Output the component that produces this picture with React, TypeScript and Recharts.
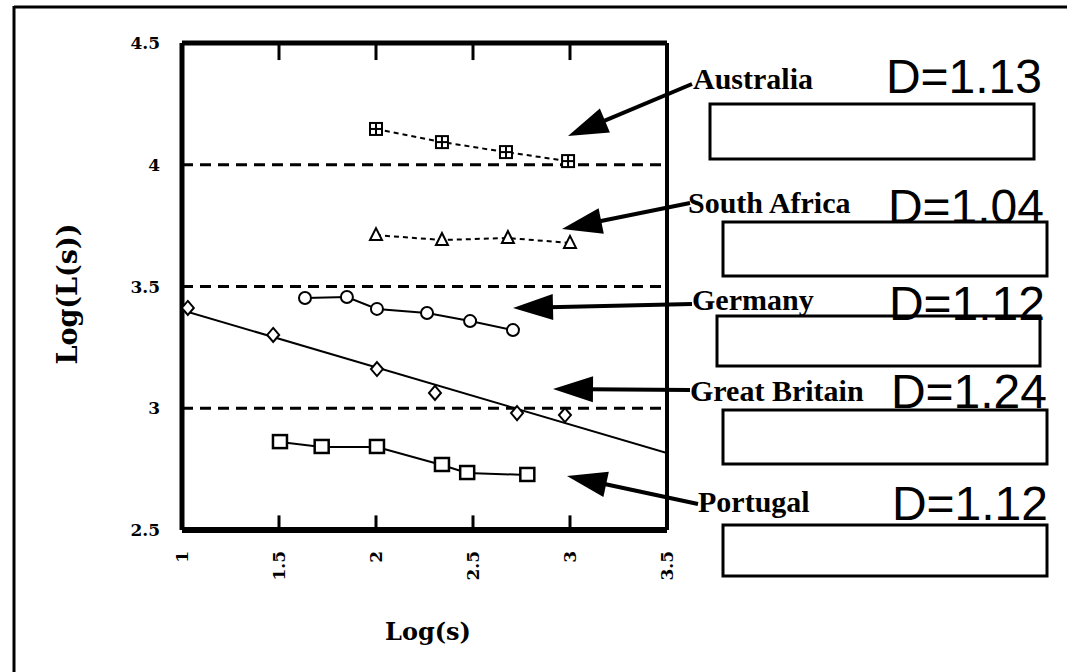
import React from 'react';
import { ComposedChart, Line, XAxis, YAxis, ReferenceLine } from 'recharts';

const xTicks = [1, 1.5, 2, 2.5, 3, 3.5];
const yTicks = [2.5, 3, 3.5, 4, 4.5];
const gridValues = [3, 3.5, 4];
const innerTicks = [1.5, 2, 2.5, 3];

const australia = [
  { x: 2.0, y: 4.147 },
  { x: 2.34, y: 4.093 },
  { x: 2.67, y: 4.052 },
  { x: 2.99, y: 4.015 },
];
const southAfrica = [
  { x: 2.0, y: 3.711 },
  { x: 2.34, y: 3.691 },
  { x: 2.68, y: 3.699 },
  { x: 3.0, y: 3.679 },
];
const germany = [
  { x: 1.634, y: 3.453 },
  { x: 1.85, y: 3.457 },
  { x: 2.005, y: 3.408 },
  { x: 2.263, y: 3.391 },
  { x: 2.485, y: 3.358 },
  { x: 2.706, y: 3.321 },
];
const greatBritain = [
  { x: 1.03, y: 3.412 },
  { x: 1.47, y: 3.301 },
  { x: 2.005, y: 3.161 },
  { x: 2.304, y: 3.063 },
  { x: 2.727, y: 2.98 },
  { x: 2.974, y: 2.972 },
];
const greatBritainFit = [
  { x: 1, y: 3.403 },
  { x: 3.5, y: 2.816 },
];
const portugal = [
  { x: 1.505, y: 2.861 },
  { x: 1.72, y: 2.841 },
  { x: 2.005, y: 2.841 },
  { x: 2.34, y: 2.767 },
  { x: 2.47, y: 2.734 },
  { x: 2.78, y: 2.726 },
];

const countries = ['Australia', 'South Africa', 'Germany', 'Great Britain', 'Portugal'];
const dims = ['D=1.13', 'D=1.04', 'D=1.12', 'D=1.24', 'D=1.12'];

const tickFont = '"DejaVu Serif", serif';

const marker = (draw: (cx: number, cy: number) => React.ReactNode) => (props: any) => {
  const { cx, cy, index } = props;
  if (cx == null || cy == null) return <g key={`e${index}`} />;
  return <g key={`m${index}`}>{draw(cx, cy)}</g>;
};

const squareCross = marker((cx, cy) => (
  <g stroke="#000" strokeWidth={2} fill="#fff">
    <rect x={cx - 6} y={cy - 6} width={12} height={12} />
    <line x1={cx} x2={cx} y1={cy - 6} y2={cy + 6} />
    <line x1={cx - 6} x2={cx + 6} y1={cy} y2={cy} />
  </g>
));
const triangle = marker((cx, cy) => (
  <polygon points={`${cx},${cy - 7} ${cx - 6},${cy + 5} ${cx + 6},${cy + 5}`} stroke="#000" strokeWidth={2} fill="#fff" />
));
const circle = marker((cx, cy) => <circle cx={cx} cy={cy} r={6} stroke="#000" strokeWidth={2} fill="#fff" />);
const diamond = marker((cx, cy) => (
  <polygon points={`${cx},${cy - 7} ${cx + 6},${cy} ${cx},${cy + 7} ${cx - 6},${cy}`} stroke="#000" strokeWidth={2} fill="#fff" />
));
const square = marker((cx, cy) => (
  <rect x={cx - 7} y={cy - 7} width={14} height={13} stroke="#000" strokeWidth={2.5} fill="#fff" />
));

const BottomTick = (props: any) => {
  const { x, y, payload } = props;
  return (
    <text
      x={x}
      y={y + 21}
      transform={`rotate(-90, ${x}, ${y + 21})`}
      textAnchor="end"
      dy="0.36em"
      fontFamily={tickFont}
      fontWeight="bold"
      fontSize={17}
      fill="#000"
    >
      {String(payload.value)}
    </text>
  );
};

const LeftTick = (props: any) => {
  const { x, y, payload } = props;
  return (
    <text
      x={x - 22}
      y={y}
      dy="0.36em"
      textAnchor="end"
      fontFamily={tickFont}
      fontWeight="bold"
      fontSize={17}
      fill="#000"
    >
      {String(payload.value)}
    </text>
  );
};

const Arrow = ({ x1, y1, x2, y2 }: { x1: number; y1: number; x2: number; y2: number }) => {
  const dx = x2 - x1;
  const dy = y2 - y1;
  const len = Math.hypot(dx, dy);
  const ux = dx / len;
  const uy = dy / len;
  const hl = 40;
  const hw = 13;
  const bx = x2 - ux * hl;
  const by = y2 - uy * hl;
  const px = -uy;
  const py = ux;
  return (
    <g>
      <line x1={x1} y1={y1} x2={bx + ux * 4} y2={by + uy * 4} stroke="#000" strokeWidth={4} />
      <polygon points={`${x2},${y2} ${bx + px * hw},${by + py * hw} ${bx - px * hw},${by - py * hw}`} fill="#000" />
    </g>
  );
};

// annotation layout
const labelPos = [
  { x: 693, y: 89 },
  { x: 688, y: 213 },
  { x: 692, y: 310 },
  { x: 690, y: 401 },
  { x: 698, y: 512 },
];
const arrowPos = [
  { x1: 692, y1: 84, x2: 568, y2: 136 },
  { x1: 690, y1: 203, x2: 562, y2: 229 },
  { x1: 692, y1: 304, x2: 513, y2: 308 },
  { x1: 690, y1: 390, x2: 553, y2: 389 },
  { x1: 698, y1: 504, x2: 567, y2: 476 },
];
const dimPos = [
  { x: 1042, y: 93 },
  { x: 1044, y: 223 },
  { x: 1045, y: 320 },
  { x: 1047, y: 408 },
  { x: 1048, y: 520 },
];
const boxes = [
  { x: 710, y: 104, w: 324, h: 55 },
  { x: 723, y: 222, w: 324, h: 54 },
  { x: 717, y: 316, w: 323, h: 50 },
  { x: 723, y: 410, w: 324, h: 54 },
  { x: 723, y: 525, w: 324, h: 51 },
];

export default function App() {
  return (
    <div style={{ position: 'absolute', left: 0, top: 0, width: 1067, height: 672, background: '#fff' }}>
      <ComposedChart width={1067} height={672} margin={{ top: 43, right: 400, bottom: 102, left: 122 }}>
        <XAxis
          dataKey="x"
          type="number"
          domain={[1, 3.5]}
          ticks={xTicks}
          allowDataOverflow
          height={40}
          tickLine={false}
          tickSize={0}
          tickMargin={0}
          tick={BottomTick}
          axisLine={{ stroke: '#000', strokeWidth: 6 }}
          interval={0}
        />
        <YAxis
          type="number"
          domain={[2.5, 4.5]}
          ticks={yTicks}
          allowDataOverflow
          width={60}
          tickLine={false}
          tickSize={0}
          tickMargin={0}
          tick={LeftTick}
          axisLine={{ stroke: '#000', strokeWidth: 5 }}
          interval={0}
        />
        {gridValues.map((v) => (
          <ReferenceLine key={v} y={v} stroke="#000" strokeWidth={3} strokeDasharray="11 7" />
        ))}
        <ReferenceLine y={4.5} stroke="#000" strokeWidth={5} />
        <ReferenceLine x={3.5} stroke="#000" strokeWidth={4} />
        {innerTicks.map((t) => (
          <ReferenceLine
            key={`b${t}`}
            segment={[
              { x: t, y: 2.5 },
              { x: t, y: 2.56 },
            ]}
            stroke="#000"
            strokeWidth={3}
          />
        ))}
        {innerTicks.map((t) => (
          <ReferenceLine
            key={`t${t}`}
            segment={[
              { x: t, y: 4.5 },
              { x: t, y: 4.43 },
            ]}
            stroke="#000"
            strokeWidth={3}
          />
        ))}
        <Line data={australia} dataKey="y" stroke="#000" strokeWidth={2} strokeDasharray="5 4" dot={squareCross} isAnimationActive={false} />
        <Line data={southAfrica} dataKey="y" stroke="#000" strokeWidth={2} strokeDasharray="5 4" dot={triangle} isAnimationActive={false} />
        <Line data={germany} dataKey="y" stroke="#000" strokeWidth={2} dot={circle} isAnimationActive={false} />
        <Line data={greatBritainFit} dataKey="y" stroke="#000" strokeWidth={2} dot={false} isAnimationActive={false} />
        <Line data={greatBritain} dataKey="y" stroke="none" dot={diamond} isAnimationActive={false} />
        <Line data={portugal} dataKey="y" stroke="#000" strokeWidth={2} dot={square} isAnimationActive={false} />
      </ComposedChart>
      <svg width={1067} height={672} style={{ position: 'absolute', left: 0, top: 0, pointerEvents: 'none' }}>
        <line x1={14} y1={7} x2={1067} y2={7} stroke="#000" strokeWidth={3} />
        <line x1={14} y1={6} x2={14} y2={672} stroke="#000" strokeWidth={3} />
        <text
          x={68}
          y={294}
          transform="rotate(-90, 68, 294)"
          textAnchor="middle"
          dy="0.35em"
          fontFamily={tickFont}
          fontWeight="bold"
          fontSize={27}
          fill="#000"
        >
          Log(L(s))
        </text>
        <text x={428} y={640} textAnchor="middle" fontFamily={tickFont} fontWeight="bold" fontSize={24} fill="#000">
          Log(s)
        </text>
        {countries.map((c, i) => (
          <g key={c}>
            <Arrow {...arrowPos[i]} />
            <text
              x={labelPos[i].x}
              y={labelPos[i].y}
              fontFamily='"Liberation Serif", serif'
              fontWeight="bold"
              fontSize={30}
              fill="#000"
            >
              {c}
            </text>
            <text
              x={dimPos[i].x}
              y={dimPos[i].y}
              textAnchor="end"
              fontFamily='"Liberation Sans", Arial, sans-serif'
              fontSize={48}
              fill="#000"
            >
              {dims[i]}
            </text>
            <rect x={boxes[i].x} y={boxes[i].y} width={boxes[i].w} height={boxes[i].h} fill="none" stroke="#000" strokeWidth={3} />
          </g>
        ))}
      </svg>
    </div>
  );
}
